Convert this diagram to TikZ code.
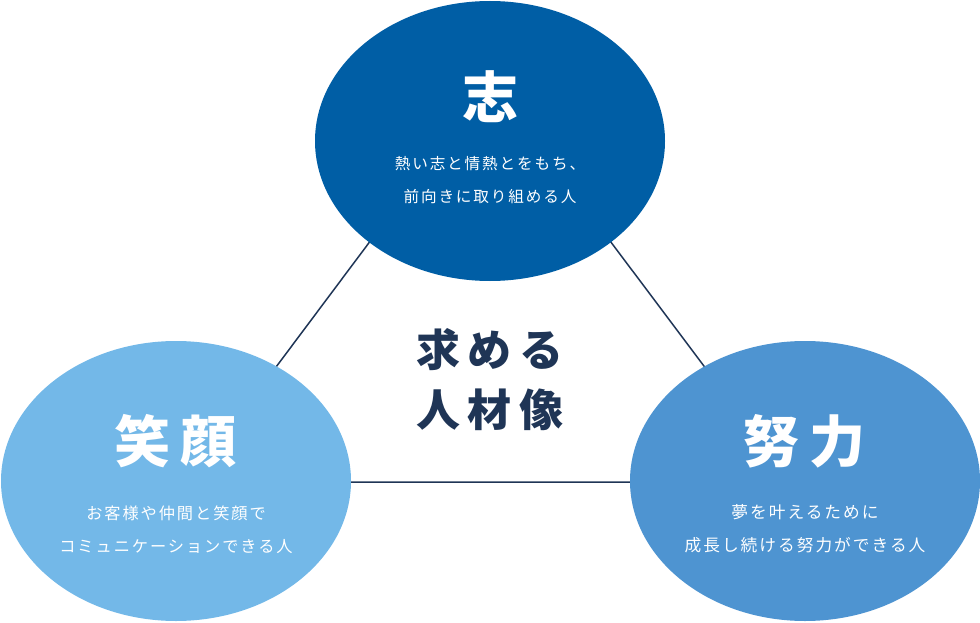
\documentclass[tikz,border=0pt]{standalone}
\usepackage{fontspec}
\usepackage{tikz}
\usetikzlibrary{shapes.geometric}
\newfontfamily\jpdesc[LetterSpace=12]{Noto Sans CJK JP}
\newfontfamily\jphead[LetterSpace=18]{Noto Sans CJK JP}
\definecolor{navy}{HTML}{1F3556}
\definecolor{shiblue}{HTML}{005EA5}
\definecolor{egaoblue}{HTML}{73B8E8}
\definecolor{doryokublue}{HTML}{4E94D1}

\begin{document}
\begin{tikzpicture}[x=1pt, y=-1pt,
    trait/.style={ellipse, minimum width=350pt, minimum height=280pt, inner sep=0pt},
    traitname/.style={text=white, font=\jphead\bfseries\fontsize{56}{60}\selectfont},
    traitdesc/.style={text=white, align=center, font=\jpdesc\fontsize{#1}{33}\selectfont},
    traitdesc/.default=16,
    edge/.style={draw=navy, line width=1.5pt}]
    \useasboundingbox (0,0) rectangle (980,623);
    % triangle behind the ellipses
    \coordinate (apex) at (490,81);
    \coordinate (lcorner) at (190,482);
    \coordinate (rcorner) at (791,482);
    \path[edge] (apex) -- (lcorner) -- (rcorner) -- cycle;
    \node[trait, fill=shiblue](shi) at (490,141){};
    \node[trait, fill=egaoblue](egao) at (176,481){};
    \node[trait, fill=doryokublue](doryoku) at (805,481){};
    \node[traitname](shiT) at (490,97){志};
    \node[traitdesc=15.6](shiD) at (490,180){熱い志と情熱とをもち、\\前向きに取り組める人};
    \node[traitname](egaoT) at (176,441){笑顔};
    \node[traitdesc=16.2](egaoD) at (176,530){お客様や仲間と笑顔で\\コミュニケーションできる人};
    \node[traitname](doryokuT) at (805,441){努力};
    \node[traitdesc=16.7](doryokuD) at (805,529){夢を叶えるために\\成長し続ける努力ができる人};
    \node[text=navy, align=center, font=\jphead\bfseries\fontsize{44}{60}\selectfont](center) at (490,380){求める\\人材像};
  \end{tikzpicture}
\end{document}
